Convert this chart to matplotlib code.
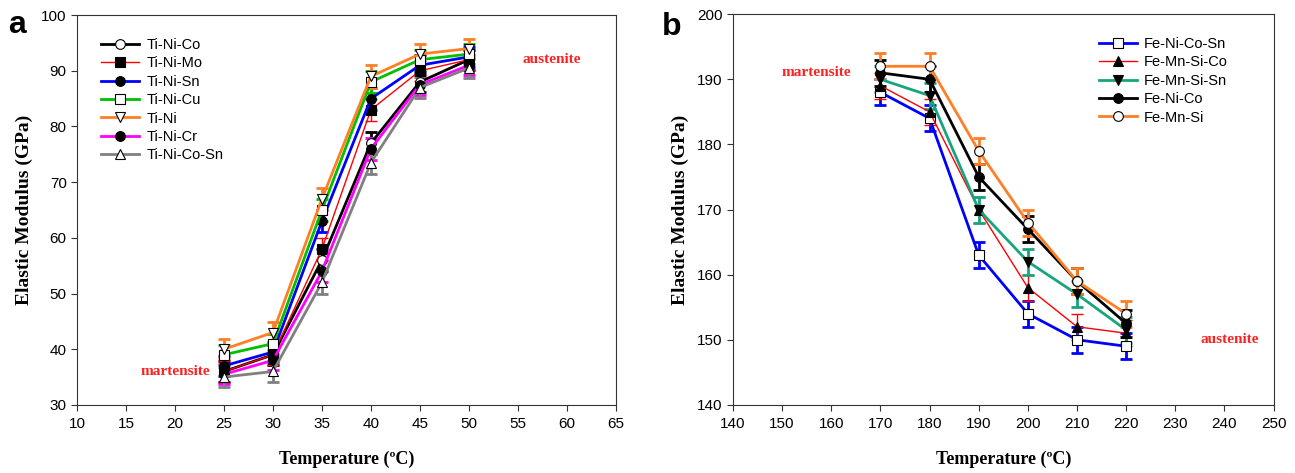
import matplotlib
matplotlib.use("Agg")
import matplotlib.pyplot as plt

# ── Panel a: Ti-based alloys ───────────────────────────────────────────
temp_a = [25, 30, 35, 40, 45, 50]
ti_ni_co = [36, 39, 56, 77, 88, 92]
ti_ni_mo = [36, 39, 58, 83, 90, 92]
ti_ni_sn = [37, 39.5, 63, 85, 91, 92.5]
ti_ni_cu = [39, 41, 65, 88, 92, 93]
ti_ni = [40, 43, 67, 89, 93, 94]
ti_ni_cr = [35.5, 38, 54, 76, 87.5, 91]
ti_ni_co_sn = [35, 36, 52, 73.5, 87, 90.5]
err_a = [1.8, 1.8, 2.0, 2.0, 1.8, 1.8]

# ── Panel b: Fe-based alloys ───────────────────────────────────────────
temp_b = [170, 180, 190, 200, 210, 220]
fe_ni_co_sn = [188, 184, 163, 154, 150, 149]
fe_mn_si_co = [189, 185, 170, 158, 152, 151]
fe_mn_si_sn = [190, 187.5, 170, 162, 157, 151.5]
fe_ni_co = [191, 190, 175, 167, 159, 152.5]
fe_mn_si = [192, 192, 179, 168, 159, 154]
err_b = [2.0, 2.0, 2.0, 2.0, 2.0, 2.0]

ORANGE = "#ff7f27"
TEAL = "#16a57c"

series_a = [
    ("Ti-Ni-Co", ti_ni_co, "black", "o", "white", 2.0),
    ("Ti-Ni-Mo", ti_ni_mo, "#ff0000", "s", "black", 1.0),
    ("Ti-Ni-Sn", ti_ni_sn, "#0000ff", "o", "black", 2.0),
    ("Ti-Ni-Cu", ti_ni_cu, "#00c000", "s", "white", 2.0),
    ("Ti-Ni", ti_ni, ORANGE, "v", "white", 2.0),
    ("Ti-Ni-Cr", ti_ni_cr, "#ff00ff", "o", "black", 2.0),
    ("Ti-Ni-Co-Sn", ti_ni_co_sn, "#808080", "^", "white", 2.0),
]

series_b = [
    ("Fe-Ni-Co-Sn", fe_ni_co_sn, "#0000ff", "s", "white", 2.0),
    ("Fe-Mn-Si-Co", fe_mn_si_co, "#ff0000", "^", "black", 1.0),
    ("Fe-Mn-Si-Sn", fe_mn_si_sn, TEAL, "v", "black", 2.0),
    ("Fe-Ni-Co", fe_ni_co, "black", "o", "black", 2.0),
    ("Fe-Mn-Si", fe_mn_si, ORANGE, "o", "white", 2.0),
]

SANS = "Liberation Sans"
SERIF = "Liberation Serif"
plt.rcParams["font.family"] = SANS


def draw_panel(ax, x, series, err):
    for label, y, color, marker, face, lw in series:
        ax.errorbar(x, y, yerr=err, fmt="none", ecolor=color,
                    elinewidth=lw, capsize=4, capthick=lw, zorder=2)
        ax.plot(x, y, color=color, linewidth=lw, marker=marker,
                markersize=7, markerfacecolor=face,
                markeredgecolor="black", markeredgewidth=0.8,
                label=label, zorder=3)
    for side in ax.spines.values():
        side.set_color("#333333")
    ax.tick_params(direction="out", length=4, labelsize=11, color="#333333")
    ax.tick_params(axis="x", pad=5)
    for lab in ax.get_xticklabels() + ax.get_yticklabels():
        lab.set_fontfamily(SANS)
    ax.set_xlabel("Temperature (ºC)", fontfamily=SERIF,
                  fontweight="bold", fontsize=13, labelpad=14)
    ax.set_ylabel("Elastic Modulus (GPa)", fontfamily=SERIF,
                  fontweight="bold", fontsize=14, labelpad=6)


fig = plt.figure(figsize=(12.95, 4.73), dpi=100)
ax_a = fig.add_axes([0.0595, 0.144, 0.416, 0.824])
ax_b = fig.add_axes([0.566, 0.144, 0.4175, 0.826])

draw_panel(ax_a, temp_a, series_a, err_a)
ax_a.set_xlim(10, 65)
ax_a.set_ylim(30, 100)
ax_a.set_xticks(range(10, 66, 5))
ax_a.set_yticks(range(30, 101, 10))
ax_a.legend(loc="upper left", bbox_to_anchor=(0.02, 0.975), frameon=False,
            fontsize=10.5, numpoints=1, handlelength=2.6, labelspacing=0.3,
            handletextpad=0.5)
ax_a.text(58.5, 92, "austenite", color="#ff2020", fontfamily=SERIF,
          fontweight="bold", fontsize=11, ha="center", va="center")
ax_a.text(20, 36, "martensite", color="#ff2020", fontfamily=SERIF,
          fontweight="bold", fontsize=11, ha="center", va="center")

draw_panel(ax_b, temp_b, series_b, err_b)
ax_b.set_xlim(140, 250)
ax_b.set_ylim(140, 200)
ax_b.set_xticks(range(140, 251, 10))
ax_b.set_yticks(range(140, 201, 10))
ax_b.legend(loc="upper right", bbox_to_anchor=(0.94, 0.975), frameon=False,
            fontsize=10.5, numpoints=1, handlelength=2.6, labelspacing=0.3,
            handletextpad=0.5)
ax_b.text(157, 191, "martensite", color="#ff2020", fontfamily=SERIF,
          fontweight="bold", fontsize=11, ha="center", va="center")
ax_b.text(241, 150, "austenite", color="#ff2020", fontfamily=SERIF,
          fontweight="bold", fontsize=11, ha="center", va="center")

fig.text(0.006, 0.93, "a", fontfamily=SANS, fontweight="bold",
         fontsize=23, va="baseline")
fig.text(0.511, 0.926, "b", fontfamily=SANS, fontweight="bold",
         fontsize=23, va="baseline")

fig.savefig("out.png", dpi=100)
